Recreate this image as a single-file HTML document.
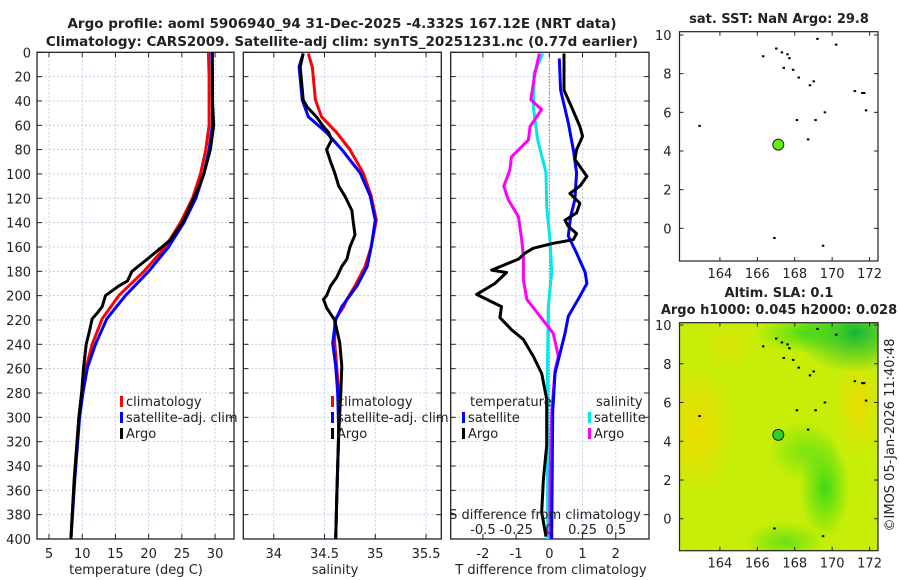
<!DOCTYPE html>
<html><head><meta charset="utf-8">
<style>
html,body{margin:0;padding:0;background:#fff;}
svg{display:block;font-family:"DejaVu Sans","Liberation Sans",sans-serif;}
</style></head>
<body>
<svg id="fig" width="900" height="580" viewBox="0 0 900 580" xmlns="http://www.w3.org/2000/svg">
<defs>
<radialGradient id="gy1"><stop offset="0" stop-color="#f2d800"/><stop offset="1" stop-color="#f2d800" stop-opacity="0"/></radialGradient>
<radialGradient id="gg1"><stop offset="0" stop-color="#10b838"/><stop offset="1" stop-color="#10b838" stop-opacity="0"/></radialGradient>
<radialGradient id="gg2"><stop offset="0" stop-color="#30d818"/><stop offset="1" stop-color="#30d818" stop-opacity="0"/></radialGradient>
<clipPath id="clipMap2"><rect x="680" y="322.7" width="198" height="228"/></clipPath>
</defs>
<g id="layer"></g>
</svg>
<script>
// ---- data ----
const depthTicks = [0,20,40,60,80,100,120,140,160,180,200,220,240,260,280,300,320,340,360,380,400];
const tempTicks = [5,10,15,20,25,30];
const salTicks = [34,34.5,35,35.5];
const tdiffTicks = [-2,-1,0,1,2];
const sdiffTicks = [-0.5,-0.25,0,0.25,0.5];
const sdiffTickLabels = ["-0.5","-0.25","0","0.25","0.5"];
const lonTicks = [164,166,168,170,172];
const latTicks = [0,2,4,6,8,10];

const tClimDepth = [0,20,39,60,80,100,120,140,160,180,200,219,240,259,280,300,350,400];
const tClim      = [29.0,29.1,29.1,29.1,28.6,27.8,26.6,24.8,22.5,19.3,15.5,13.0,11.5,10.6,9.9,9.5,8.8,8.3];
const tSatDepth  = [0,20,39,60,80,100,120,140,160,180,200,219,240,259,280,300,350,400];
const tSat       = [29.5,29.6,29.6,29.6,29.1,28.3,27.1,25.3,23.0,20.0,16.5,13.7,12.0,10.8,10.1,9.6,8.9,8.3];
const tArgoDepth = [0,20,39,60,80,100,110,120,140,154,160,170,180,188,192,200,209,214,219,231,240,259,280,300,350,400];
const tArgo      = [29.6,29.6,29.6,29.8,29.3,28.3,27.6,26.8,25.1,23.3,22.0,19.8,17.5,16.8,15.5,13.5,13.0,12.3,11.5,11.0,10.6,10.2,9.9,9.5,8.8,8.3];

const sClimDepth = [1,12,39,53,66,80,99,118,138,160,176,192,203,209,220,239,258,280,313,340,368,400];
const sClim      = [34.34,34.38,34.41,34.47,34.62,34.75,34.88,34.96,35.01,34.96,34.90,34.80,34.72,34.69,34.60,34.60,34.62,34.64,34.64,34.63,34.62,34.61];
const sSatDepth  = [1,12,39,53,66,80,99,118,138,160,176,192,209,220,239,258,280,313,340,368,400];
const sSat       = [34.29,34.25,34.28,34.34,34.52,34.67,34.85,34.95,35.0,34.96,34.92,34.82,34.67,34.61,34.58,34.61,34.63,34.64,34.63,34.62,34.61];
const sArgoDepth = [1,12,39,45,53,60,66,72,80,90,99,110,118,130,138,150,160,170,176,185,192,200,203,210,220,239,258,280,313,340,368,400];
const sArgo      = [34.29,34.26,34.29,34.33,34.42,34.48,34.54,34.57,34.52,34.56,34.60,34.64,34.70,34.77,34.78,34.80,34.75,34.72,34.67,34.62,34.56,34.52,34.49,34.52,34.60,34.65,34.67,34.66,34.64,34.63,34.62,34.61];

const dTSatDepth = [5,31,58,80,99,121,135,151,165,181,190,203,217,231,264,296,400];
const dTSat      = [0.30,0.34,0.57,0.72,0.82,0.77,0.64,0.57,0.82,1.08,1.13,0.87,0.57,0.47,0.17,0.10,0.07];
const dTArgoDepth = [1,31,45,61,69,80,88,102,110,116,124,132,138,143,149,154,157,161,165,170,179,181,190,199,209,218,228,236,250,264,285,323,351,378,398];
const dTArgo      = [0.44,0.44,0.67,0.92,1.0,0.82,0.77,1.13,0.92,0.62,0.92,0.82,0.47,0.57,0.82,0.72,0.12,-0.48,-0.73,-0.93,-1.74,-1.29,-1.64,-2.19,-1.44,-1.49,-1.14,-0.78,-0.48,-0.23,-0.08,-0.08,-0.18,-0.23,-0.10];
const dSSatDepth = [1,17,45,72,99,127,154,181,209,264,330,400];
const dSSat      = [-0.05,-0.115,-0.12,-0.088,-0.025,-0.02,0.005,0.018,-0.008,-0.015,-0.015,-0.012];
const dSArgoDepth = [1,17,39,47,61,72,86,97,110,121,135,154,168,187,203,217,231,250,261,296,351,398];
const dSArgo      = [-0.075,-0.108,-0.14,-0.058,-0.145,-0.158,-0.285,-0.298,-0.343,-0.31,-0.233,-0.208,-0.195,-0.195,-0.17,-0.07,0.03,0.068,0.043,0.018,0.005,0.005];

const islandLon = [167.0,167.3,167.6,167.7,166.3,167.4,167.9,168.2,168.8,169.0,169.6,171.2,171.6,170.2,169.2,171.8,162.9,168.1,168.7,169.1,171.7,166.9,169.5];
const islandLat = [9.3,9.1,9.0,8.8,8.9,8.3,8.2,7.8,7.4,7.6,6.0,7.1,7.0,9.5,9.8,6.1,5.3,5.6,4.6,5.6,7.0,-0.5,-0.9];
const argoLon = 167.12, argoLat = 4.33;

// ---- helpers ----
const NS = "http://www.w3.org/2000/svg";
const L = document.getElementById('layer');
function mk(tag, attrs, parent){ const e=document.createElementNS(NS,tag); for(const k in attrs) e.setAttribute(k,attrs[k]); (parent||L).appendChild(e); return e; }
function txt(s,x,y,size,anchor,weight,parent){ const t=mk('text',{x:x,y:y,'font-size':size,'text-anchor':anchor||'middle','fill':'#222','font-weight':weight||'normal'},parent); t.textContent=s; return t; }

const TOP=52.3, BOT=539;
const yD = d => TOP + (d/400)*(BOT-TOP);
const panels = [
 {name:'temperature-panel', x0:37, x1:234, lo:3.19, hi:32.85},
 {name:'salinity-panel', x0:243.3, x1:441.3, lo:33.7, hi:35.65},
 {name:'difference-panel', x0:450.7, x1:649, lo:-2.97, hi:3.0}
];
function xf(p){ return v => p.x0 + (v-p.lo)/(p.hi-p.lo)*(p.x1-p.x0); }

function drawPanel(p, ticks){
  const g = mk('g',{});
  
  
  const X = xf(p);
  depthTicks.forEach(d=>{ if(d>0&&d<400) mk('line',{x1:p.x0,x2:p.x1,y1:yD(d),y2:yD(d),stroke:'#b8c4e0','stroke-width':0.8,'stroke-dasharray':'2,2'},g); });
  ticks.forEach(v=>{ mk('line',{x1:X(v),x2:X(v),y1:TOP,y2:BOT,stroke:'#b8c4e0','stroke-width':0.8,'stroke-dasharray':'2,2'},g); });
  depthTicks.forEach(d=>{ mk('line',{x1:p.x0,x2:p.x0+5,y1:yD(d),y2:yD(d),stroke:'#222'},g); mk('line',{x1:p.x1-5,x2:p.x1,y1:yD(d),y2:yD(d),stroke:'#222'},g); });
  ticks.forEach(v=>{ mk('line',{x1:X(v),x2:X(v),y1:BOT,y2:BOT-5,stroke:'#222'},g); mk('line',{x1:X(v),x2:X(v),y1:TOP,y2:TOP+5,stroke:'#222'},g); });
  mk('rect',{x:p.x0,y:TOP,width:p.x1-p.x0,height:BOT-TOP,fill:'none',stroke:'#222','stroke-width':1.3},g);
  return {g,X};
}
function series(g, X, vals, depths, color, name, sw){
  let d=''; vals.forEach((v,i)=>{ d += (i?'L':'M') + X(v).toFixed(1) + ',' + yD(depths[i]).toFixed(1); });
  const p = mk('path',{d:d,fill:'none',stroke:color,'stroke-width':sw||3,'stroke-linejoin':'round'},g);
  
  
}
function legendEntry(g, x, y, color, label, name){
  const e = mk('g',{},g);
  
  
  mk('rect',{x:x,y:y-10,width:3,height:11,fill:color},e);
  txt(label,x+6,y,13,'start','normal',e);
}

// titles
const t1 = txt('Argo profile: aoml 5906940_94 31-Dec-2025 -4.332S 167.12E (NRT data)',342,28,13.5,'middle','bold');
 
const t2 = txt('Climatology: CARS2009. Satellite-adj clim: synTS_20251231.nc (0.77d earlier)',342,46,13.5,'middle','bold');
 

// panel 1
const P1 = drawPanel(panels[0], tempTicks);
depthTicks.forEach(d=>{ const t=txt(String(d),31,yD(d)+5,13,'end','normal',P1.g); });
tempTicks.forEach(v=>txt(String(v),P1.X(v),558,13,'middle','normal',P1.g));
const xl1 = txt('temperature (deg C)',136,574,13,'middle','normal',P1.g);
 
series(P1.g,P1.X,tClim,tClimDepth,'#ff0000','temp-climatology-line');
series(P1.g,P1.X,tSat,tSatDepth,'#0000ff','temp-satellite-line');
series(P1.g,P1.X,tArgo,tArgoDepth,'#000000','temp-argo-line');
legendEntry(P1.g,120,406,'#ff0000','climatology','legend-climatology');
legendEntry(P1.g,120,422,'#0000ff','satellite-adj. clim','legend-satellite');
legendEntry(P1.g,120,438,'#000000','Argo','legend-argo');

// panel 2
const P2 = drawPanel(panels[1], salTicks);
salTicks.forEach(v=>txt(String(v),P2.X(v),558,13,'middle','normal',P2.g));
const xl2 = txt('salinity',335,574,13,'middle','normal',P2.g);
 
series(P2.g,P2.X,sClim,sClimDepth,'#ff0000','sal-climatology-line');
series(P2.g,P2.X,sSat,sSatDepth,'#0000ff','sal-satellite-line');
series(P2.g,P2.X,sArgo,sArgoDepth,'#000000','sal-argo-line');
legendEntry(P2.g,331,406,'#ff0000','climatology','legend-climatology-2');
legendEntry(P2.g,331,422,'#0000ff','satellite-adj. clim','legend-satellite-2');
legendEntry(P2.g,331,438,'#000000','Argo','legend-argo-2');

// panel 3
const P3 = drawPanel(panels[2], tdiffTicks);
mk('line',{x1:P3.X(0),x2:P3.X(0),y1:TOP,y2:BOT,stroke:'#555','stroke-width':1,'stroke-dasharray':'1,2'},P3.g);
tdiffTicks.forEach(v=>txt(String(v),P3.X(v),558,13,'middle','normal',P3.g));
const xl3 = txt('T difference from climatology',551,574,13,'middle','normal',P3.g);
 
const XS = v => P3.X(v*4);
series(P3.g,XS,dSSat,dSSatDepth,'#00e8e8','sdiff-satellite-line');
series(P3.g,XS,dSArgo,dSArgoDepth,'#ff00ff','sdiff-argo-line');
series(P3.g,P3.X,dTSat,dTSatDepth,'#0000ff','tdiff-satellite-line');
series(P3.g,P3.X,dTArgo,dTArgoDepth,'#000000','tdiff-argo-line');
txt('temperature',470,406,13,'start','normal',P3.g);
legendEntry(P3.g,462,422,'#0000ff','satellite','legend-t-satellite');
legendEntry(P3.g,462,438,'#000000','Argo','legend-t-argo');
txt('salinity',596,406,13,'start','normal',P3.g);
legendEntry(P3.g,588,422,'#00e8e8','satellite','legend-s-satellite');
legendEntry(P3.g,588,438,'#ff00ff','Argo','legend-s-argo');
const sl = txt('S difference from climatology',545,519,13,'middle','normal',P3.g);
 
sdiffTicks.forEach((v,i)=>txt(sdiffTickLabels[i],XS(v),534,13,'middle','normal',P3.g));

// maps
function drawMap(name, y0, y1, latTop, latBot, bottomMap){
  const g = mk('g',{});
  
  
  const x0=679.5, x1=878, lonL=161.84, lonR=172.45;
  const MX = lon => x0 + (lon-lonL)/(lonR-lonL)*(x1-x0);
  const MY = lat => y0 + (latTop-lat)/(latTop-latBot)*(y1-y0);
  if(bottomMap){
    const bg = mk('g',{'clip-path':'url(#clipMap2)'},g);
    mk('rect',{x:x0,y:y0,width:x1-x0,height:y1-y0,fill:'#c6ee08'},bg);
    mk('ellipse',{cx:MX(162.8),cy:MY(4.6),rx:40,ry:70,fill:'url(#gy1)',opacity:0.9},bg);
    mk('ellipse',{cx:MX(171.4),cy:MY(5.8),rx:25,ry:55,fill:'url(#gy1)',opacity:0.8},bg);
    mk('ellipse',{cx:MX(164.5),cy:MY(9.0),rx:30,ry:30,fill:'url(#gy1)',opacity:0.4},bg);
    mk('ellipse',{cx:MX(171.2),cy:MY(9.6),rx:60,ry:40,fill:'url(#gg1)'},bg);
    mk('ellipse',{cx:MX(168.6),cy:MY(9.6),rx:50,ry:20,fill:'url(#gg2)',opacity:0.8},bg);
    mk('ellipse',{cx:MX(169.6),cy:MY(1.6),rx:25,ry:50,fill:'url(#gg2)',opacity:0.9},bg);
    mk('ellipse',{cx:MX(168.5),cy:MY(3.5),rx:35,ry:30,fill:'url(#gg2)',opacity:0.5},bg);
    mk('ellipse',{cx:MX(167.5),cy:MY(-1.2),rx:40,ry:20,fill:'url(#gg2)',opacity:0.6},bg);
  }
  islandLon.forEach((lon,i)=>{ mk('rect',{x:MX(lon)-1,y:MY(islandLat[i])-1,width:2.5,height:2,fill:'#000'},g); });
  const dot = mk('circle',{cx:MX(argoLon),cy:MY(argoLat),r:5.5,fill:bottomMap?'#30d020':'#66ee11',stroke:'#222','stroke-width':1},g);
   
  lonTicks.forEach(v=>{ mk('line',{x1:MX(v),x2:MX(v),y1:y1,y2:y1-4,stroke:'#222'},g); mk('line',{x1:MX(v),x2:MX(v),y1:y0,y2:y0+4,stroke:'#222'},g); txt(String(v),MX(v),y1+17,13,'middle','normal',g); });
  latTicks.forEach(v=>{ mk('line',{x1:x0,x2:x0+4,y1:MY(v),y2:MY(v),stroke:'#222'},g); mk('line',{x1:x1-4,x2:x1,y1:MY(v),y2:MY(v),stroke:'#222'},g); txt(String(v),x0-8,MY(v)+5,13,'end','normal',g); });
  mk('rect',{x:x0,y:y0,width:x1-x0,height:y1-y0,fill:'none',stroke:'#222','stroke-width':1.2},g);
  return g;
}
const m1 = drawMap('sst-map',31.7,261,10.17,-1.69,false);
const mt1 = txt('sat. SST: NaN Argo: 29.8',779,23,13,'middle','bold');
 
const m2 = drawMap('sla-map',322.7,550.7,10.12,-1.65,true);
const mt2 = txt('Altim. SLA: 0.1',779,297,13,'middle','bold');
 
const mt3 = txt('Argo h1000: 0.045 h2000: 0.028',779,314,13,'middle','bold');
 
const cr = txt('\u00A9IMOS 05-Jan-2026 11:40:48',0,0,13,'middle','normal');
cr.setAttribute('transform','translate(894,435) rotate(-90)');
 
</script>
</body></html>
